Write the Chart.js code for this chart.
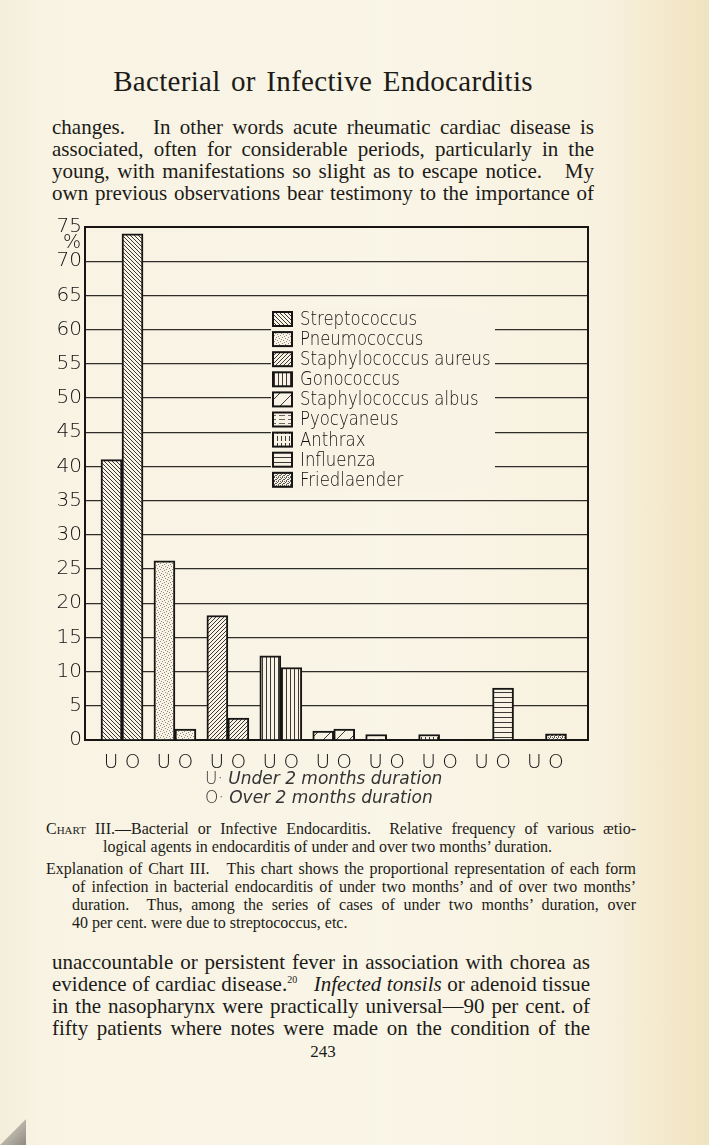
<!DOCTYPE html>
<html>
<head>
<meta charset="utf-8">
<script src="https://cdn.jsdelivr.net/npm/chart.js@4.4.1/dist/chart.umd.min.js"></script>
<style>
html,body{margin:0;padding:0}
body{
  width:709px;height:1145px;position:relative;overflow:hidden;
  background:linear-gradient(to right,#f4eedb 0%,#f8f3e3 6%,#f9f5e7 55%,#f8f1df 85%,#f0e3bf 100%);
  font-family:'Liberation Serif','DejaVu Serif',serif;color:#1c1b18;
}
.abs{position:absolute}
.ln{text-align:justify;text-align-last:justify}
.body{left:52px;width:542px;font-size:21px;line-height:22px}
.cap{font-size:16px;line-height:18px}
.sc{font-variant:small-caps}
.lab{left:205px;font-family:'DejaVu Sans',sans-serif;font-size:17px;line-height:19px;color:#333;font-weight:200}
#wrap{position:absolute;left:0;top:205px;width:709px;height:565px}
.fold{left:0;top:1118px;width:26px;height:27px;background:linear-gradient(135deg,transparent 50%,#b9b4a8 52%,#8e8a82 100%)}
</style>
</head>
<body>

<div class="abs" style="left:52px;width:542px;top:64px;text-align:center;font-size:29px;line-height:34px;word-spacing:3px;letter-spacing:0.3px">Bacterial or Infective Endocarditis</div>

<div class="abs body" style="top:116px">
  <div class="ln">changes.&nbsp;&nbsp; In other words acute rheumatic cardiac disease is</div>
  <div class="ln">associated, often for considerable periods, particularly in the</div>
  <div class="ln">young, with manifestations so slight as to escape notice.&nbsp;&nbsp; My</div>
  <div class="ln">own previous observations bear testimony to the importance of</div>
</div>

<div id="wrap"><canvas id="chart" width="709" height="565"></canvas></div>

<div class="abs lab" style="top:769px">U· <i>Under 2 months duration</i></div>
<div class="abs lab" style="top:788px">O· <i>Over 2 months duration</i></div>

<div class="abs cap" style="left:46px;width:590px;top:820px">
  <div class="ln"><span class="sc">Chart</span> III.—Bacterial or Infective Endocarditis.&nbsp; Relative frequency of various ætio-</div>
  <div style="padding-left:57px">logical agents in endocarditis of under and over two months’ duration.</div>
</div>

<div class="abs cap" style="left:46px;width:590px;top:860px">
  <div class="ln">Explanation of Chart III.&nbsp;&nbsp; This chart shows the proportional representation of each form</div>
  <div class="ln" style="padding-left:26px">of infection in bacterial endocarditis of under two months’ and of over two months’</div>
  <div class="ln" style="padding-left:26px">duration.&nbsp; Thus, among the series of cases of under two months’ duration, over</div>
  <div style="padding-left:26px">40 per cent. were due to streptococcus, etc.</div>
</div>

<div class="abs body" style="top:951px;width:538px">
  <div class="ln">unaccountable or persistent fever in association with chorea as</div>
  <div class="ln">evidence of cardiac disease.<sup style="font-size:10px;line-height:0">20</sup>&nbsp;&nbsp; <i>Infected tonsils</i> or adenoid tissue</div>
  <div class="ln">in the nasopharynx were practically universal—90 per cent. of</div>
  <div class="ln">fifty patients where notes were made on the condition of the</div>
</div>

<div class="abs" style="left:300px;width:46px;top:1042px;text-align:center;font-size:17px">243</div>
<div class="abs fold"></div>

<script>
// Datos (porcentaje de casos)
const organismos = ['Streptococcus','Pneumococcus','Staphylococcus aureus','Gonococcus',
  'Staphylococcus albus','Pyocyaneus','Anthrax','Influenza','Friedlaender'];
const menosDosMeses = [41, 26.2, 18.2, 12.3, 1.3, 0.8, 0.8, null, null];   // U
const masDosMeses   = [74, 1.6, 3.2, 10.6, 1.6, null, null, 7.6, 0.9];    // O
const etiquetaGrupo = 'U O';
const yMax = 75, yPaso = 5;

const PAPER = '#f8f3e4';
const INK   = '#161514';
const LETRA = "'DejaVu Sans', sans-serif";

const canvas = document.getElementById('chart');
const ctx = canvas.getContext('2d');

// ── Tramas de cada organismo ──
function trama(w, h, dibujar){
  const c = document.createElement('canvas');
  c.width = w; c.height = h;
  const g = c.getContext('2d');
  g.fillStyle = PAPER; g.fillRect(0,0,w,h);
  g.strokeStyle = '#3a3935'; g.fillStyle = '#3a3935'; g.lineWidth = 1;
  dibujar(g, w, h);
  return ctx.createPattern(c, 'repeat');
}
function linea(g, x1, y1, x2, y2){ g.beginPath(); g.moveTo(x1,y1); g.lineTo(x2,y2); g.stroke(); }

const TRAMAS = [
  // Streptococcus: diagonal \
  trama(4,4,(g)=>{ linea(g,-1,-1,5,5); linea(g,-1,3,1,5); linea(g,3,-1,5,1); }),
  // Pneumococcus: punteado fino
  trama(6,6,(g)=>{ g.fillStyle='#8d8a80';
    [[0,0],[3,1],[1,3],[4,4],[5,2],[2,5]].forEach(([x,y])=>g.fillRect(x,y,1,1)); }),
  // Staph. aureus: diagonal /
  trama(4,4,(g)=>{ linea(g,-1,5,5,-1); linea(g,-1,1,1,-1); linea(g,3,5,5,3); }),
  // Gonococcus: verticales
  trama(4,1,(g)=>{ g.fillRect(2,0,1,1); }),
  // Staph. albus: diagonal espaciada
  trama(13,13,(g)=>{ linea(g,-1,14,14,-1); }),
  // Pyocyaneus: horizontales cortadas
  trama(9,4,(g)=>{ g.fillStyle='#6a675f'; g.fillRect(0,2,6,1); }),
  // Anthrax: verticales cortadas
  trama(4,7,(g)=>{ g.fillRect(1,0,1,5); }),
  // Influenza: horizontales
  trama(1,5,(g)=>{ g.fillRect(0,2,1,1); }),
  // Friedlaender: granulado denso
  trama(4,4,(g)=>{ g.fillStyle='#5a5852';
    [[0,0],[2,0],[1,1],[3,2],[0,2],[2,3]].forEach(([x,y])=>g.fillRect(x,y,1,1)); })
];

// ── Leyenda dentro del área del gráfico ──
const leyendaPlugin = {
  id:'leyenda',
  afterDatasetsDraw(chart){
    const {ctx, chartArea:a} = chart;
    const x0 = a.left + 188, y0 = a.top + 92, paso = 20.1;
    ctx.save();
    ctx.fillStyle = PAPER;
    ctx.fillRect(x0 - 2, y0 - 11, 224, paso * organismos.length + 2);
    ctx.font = `200 19px ${LETRA}`;
    ctx.textBaseline = 'middle';
    organismos.forEach((nombre, i)=>{
      const y = y0 + i * paso;
      ctx.fillStyle = TRAMAS[i];
      ctx.fillRect(x0, y - 7, 19, 14);
      ctx.strokeStyle = INK; ctx.lineWidth = 2;
      ctx.strokeRect(x0, y - 7, 19, 14);
      ctx.save();
      ctx.translate(x0 + 27, y + 1);
      ctx.scale(0.87, 1);
      ctx.fillStyle = '#111';
      ctx.fillText(nombre, 0, 0);
      ctx.restore();
    });
    ctx.restore();
  }
};

// ── Marco superior/derecho y signo % ──
const marcoPlugin = {
  id:'marco',
  afterDraw(chart){
    const {ctx, chartArea:a, scales:{y}} = chart;
    ctx.save();
    ctx.strokeStyle = INK; ctx.lineWidth = 2;
    ctx.beginPath();
    ctx.moveTo(a.left, a.top); ctx.lineTo(a.right, a.top); ctx.lineTo(a.right, a.bottom);
    ctx.stroke();
    ctx.fillStyle = '#111';
    ctx.font = `200 19px ${LETRA}`;
    ctx.textAlign = 'right'; ctx.textBaseline = 'middle';
    ctx.fillText('%', a.left - 4, y.getPixelForValue(yMax) + 16);
    ctx.restore();
  }
};

const puntos = arr => arr.map((v,i)=>({x:i, y:v}));

new Chart(ctx, {
  type:'bar',
  data:{
    datasets:[
      { label:'U', data:puntos(menosDosMeses), backgroundColor:TRAMAS, borderColor:INK, borderWidth:2, barThickness:21 },
      { label:'O', data:puntos(masDosMeses),   backgroundColor:TRAMAS, borderColor:INK, borderWidth:2, barThickness:21 }
    ]
  },
  options:{
    responsive:false,
    animation:false,
    layout:{ padding:{ top:22, right:121, left:0, bottom:0 } },
    plugins:{ legend:{ display:false }, tooltip:{ enabled:false } },
    scales:{
      x:{
        type:'linear', min:-0.699, max:8.803, offset:false,
        grid:{ display:false },
        border:{ color:INK, width:2 },
        afterBuildTicks: s => { s.ticks = organismos.map((_,i)=>({ value:i })); },
        afterFit: s => { s.height = 30; },
        ticks:{ autoSkip:false, maxRotation:0, padding:3, color:'#111',
          font:{ family:LETRA, size:20, weight:200 },
          callback: () => etiquetaGrupo }
      },
      y:{
        min:0, max:yMax,
        afterFit: s => { s.width = 85; },
        grid:{ color:'#2e2d2a', lineWidth:1.3, drawTicks:false },
        border:{ color:INK, width:2 },
        ticks:{ stepSize:yPaso, padding:3, color:'#111',
          font:{ family:LETRA, size:20, weight:200 } }
      }
    }
  },
  plugins:[leyendaPlugin, marcoPlugin]
});
</script>
</body>
</html>
